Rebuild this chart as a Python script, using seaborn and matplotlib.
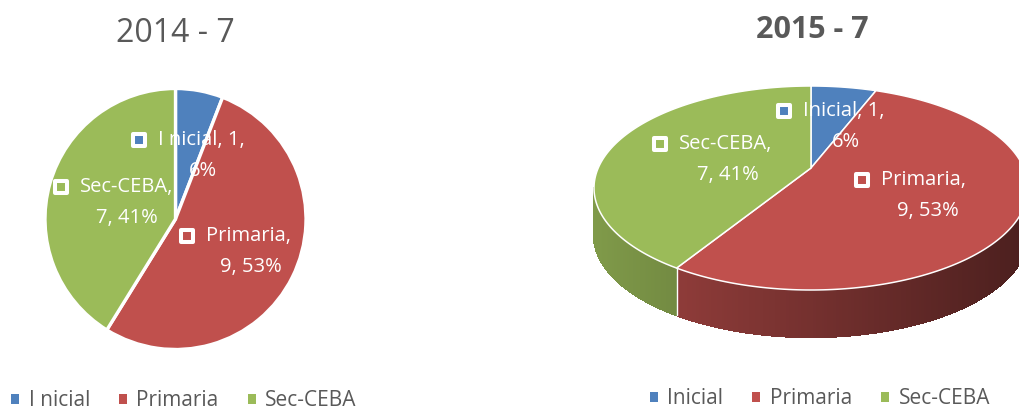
import numpy as np
import matplotlib
matplotlib.use("Agg")
import matplotlib.pyplot as plt
from matplotlib.patches import Polygon, Patch
import seaborn as sns

# data
categories_2014 = ["I nicial", "Primaria", "Sec-CEBA"]
categories_2015 = ["Inicial", "Primaria", "Sec-CEBA"]
values_2014 = [1, 9, 7]
values_2015 = [1, 9, 7]
title_2014 = "2014 - 7"
title_2015 = "2015 - 7"

colors = ["#4F81BD", "#C0504D", "#9BBB59"]
gray = "#595959"

sns.set_theme(style="white")
plt.rcParams["font.family"] = ["Open Sans", "DejaVu Sans"]

W, H = 1019, 412
fig = plt.figure(figsize=(W / 100, H / 100), dpi=100)


def pct(values):
    total = sum(values)
    return [round(100 * v / total) for v in values]


# ---- left: flat pie ----
r_px = 134
ax1 = fig.add_axes([(175.5 - r_px) / W, (H - 219 - r_px) / H, 2 * r_px / W, 2 * r_px / H])
ax1.pie(values_2014, colors=colors, startangle=90, counterclock=False, radius=1, frame=True,
        wedgeprops=dict(edgecolor="white", linewidth=2.4))
ax1.set_xlim(-r_px / 130.5, r_px / 130.5)
ax1.set_ylim(-r_px / 130.5, r_px / 130.5)
ax1.axis("off")

# overlay in pixel coordinates for the 3d pie and the labels
ax = fig.add_axes([0, 0, 1, 1])
ax.set_xlim(0, W)
ax.set_ylim(H, 0)
ax.axis("off")

# ---- right: 3d pie (tilted disc seen in perspective) ----
cx, cy, rx, ry, depth = 811, 188, 217, 102, 47
lift = 20  # how far the disc centre sits above the ellipse centre
k = lift / ry
A = rx * np.sqrt(1 - k ** 2)


def ept(theta):
    t = np.radians(theta)
    u, v = np.cos(t), np.sin(t)
    d = 1 + k * v
    return cx + A * u / d, cy - (ry * v + lift) / d


hub = (cx, cy - lift)

total = sum(values_2015)
bounds = []
start = 90.0
for v in values_2015:
    end = start - 360.0 * v / total
    bounds.append((start, end))
    start = end

# side walls, shaded darker towards the right
for (a0, a1), col in zip(bounds, colors):
    base = np.array(matplotlib.colors.to_rgb(col))
    angles = np.linspace(a0, a1, 300)
    for t0, t1 in zip(angles[:-1], angles[1:]):
        x0, y0 = ept(t0)
        x1, y1 = ept(t1)
        if (y0 + y1) / 2 <= cy:
            continue
        f = 0.606 - 0.216 * ((x0 + x1) / 2 - cx) / rx
        ax.add_patch(Polygon([(x0, y0), (x1, y1), (x1, y1 + depth), (x0, y0 + depth)],
                             closed=True, facecolor=base * f, edgecolor=base * f,
                             linewidth=1.0, antialiased=False, zorder=2))
# white seam where two slices meet on the front wall
for a0, a1 in bounds:
    x, y = ept(a1)
    if y > cy:
        ax.plot([x, x], [y, y + depth], color="white", lw=1, zorder=3)

# top faces
for (a0, a1), col in zip(bounds, colors):
    angles = np.linspace(a0, a1, 200)
    pts = [hub] + [ept(t) for t in angles]
    ax.add_patch(Polygon(pts, closed=True, facecolor=col, edgecolor="white",
                         linewidth=1.1, zorder=4))


# ---- data labels ----
def data_label(sx, sy, name, value, p, col, c2x, value_first_line):
    ax.scatter([sx], [sy], marker="s", s=64, facecolor=col, edgecolor="white",
               linewidth=2.9, zorder=6)
    if value_first_line:
        line1, line2 = f"{name}, {value},", f"{p}%"
    else:
        line1, line2 = f"{name},", f"{value}, {p}%"
    ax.text(sx + 19, sy, line1, color="white", fontsize=14.5,
            ha="left", va="center", zorder=6)
    ax.text(c2x, sy + 31, line2, color="white", fontsize=14.5,
            ha="center", va="center", zorder=6)


p14 = pct(values_2014)
left_pos = [(139, 140, 203, True), (187, 236, 251, False), (61, 187, 127, False)]
for (sx, sy, c2x, first), n, v, p, c in zip(left_pos, categories_2014, values_2014, p14, colors):
    data_label(sx, sy, n, v, p, c, c2x, first)

p15 = pct(values_2015)
right_pos = [(784, 111, 846, True), (862, 180, 928, False), (660, 144, 728, False)]
for (sx, sy, c2x, first), n, v, p, c in zip(right_pos, categories_2015, values_2015, p15, colors):
    data_label(sx, sy, n, v, p, c, c2x, first)

# ---- titles ----
ax.text(175, 33, title_2014, fontsize=23, color=gray, ha="center", va="center")
ax.text(812, 30, title_2015, fontsize=22, fontweight="bold", color=gray,
        ha="center", va="center")

# ---- legends ----
for cats, xc, yc in [(categories_2014, 184, 401), (categories_2015, 820, 399)]:
    handles = [Patch(facecolor=c, edgecolor="none") for c in colors]
    fig.legend(handles, cats, loc="center", bbox_to_anchor=(xc / W, 1 - yc / H),
               ncol=3, frameon=False, fontsize=15, labelcolor=gray,
               handlelength=0.38, handleheight=0.38, handletextpad=0.45,
               columnspacing=1.4, borderpad=0, borderaxespad=0)

fig.savefig("out.png", dpi=100)
